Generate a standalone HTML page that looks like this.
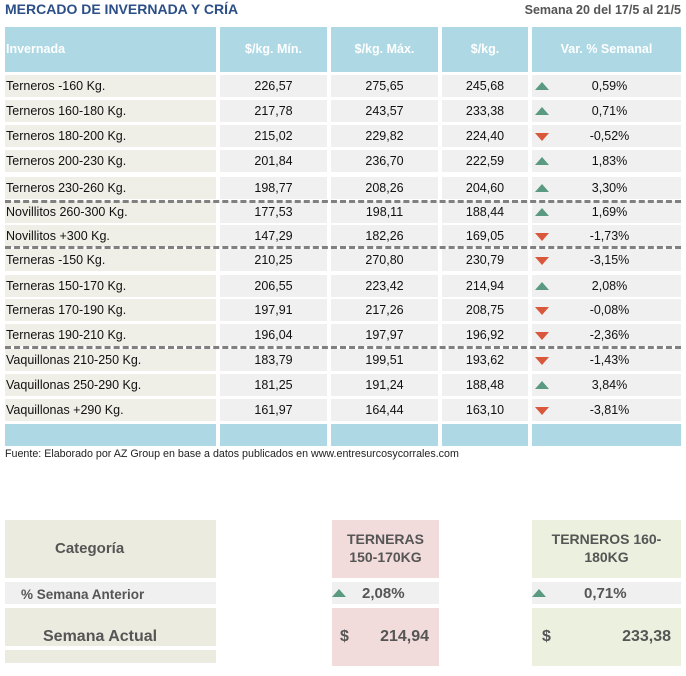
<!DOCTYPE html>
<html><head><meta charset="utf-8"><style>
body{margin:0;width:686px;height:676px;background:#fff;position:relative;overflow:hidden;font-family:"Liberation Sans",Arial,sans-serif}
div{position:absolute;box-sizing:border-box}
.t{font-size:12.5px;color:#111;line-height:22px;height:22px}
.h{top:27px;height:45px;background:#add8e4;color:#fff;font-weight:bold;font-size:12.5px;line-height:45px;text-align:center}
.c1{left:5px;width:211px;background:#f0efe7;padding-left:1px}
.c2{left:220px;width:107px;background:#f0f0f0;text-align:center}
.c3{left:331px;width:107px;background:#f0f0f0;text-align:center}
.c4{left:442px;width:86px;background:#f0f0f0;text-align:center}
.c5{left:532px;width:149px;background:#f0f0f0;text-align:center;padding-left:6px}
.up,.dn{position:absolute;left:3px;top:7px;width:0;height:0;border-left:7px solid transparent;border-right:7px solid transparent}
.up{border-bottom:8px solid #5a9a80}
.dn{border-top:8px solid #d9573a;top:8px}
.dash{left:5px;width:676px;height:0;border-top:3px dashed #808080}
.b{font-weight:bold;color:#555}
</style></head><body>
<div style="left:5px;top:1px;font-size:14px;font-weight:bold;color:#2b4f86">MERCADO DE INVERNADA Y CRÍA</div>
<div style="right:5px;top:3px;font-size:12.5px;font-weight:bold;color:#555">Semana 20 del 17/5 al 21/5</div>
<div class="h" style="left:5px;width:211px;text-align:left;padding-left:1px">Invernada</div>
<div class="h" style="left:220px;width:107px">$/kg. Mín.</div>
<div class="h" style="left:331px;width:107px">$/kg. Máx.</div>
<div class="h" style="left:442px;width:86px">$/kg.</div>
<div class="h" style="left:532px;width:149px">Var. % Semanal</div>

<div class="t c1" style="top:75px">Terneros -160 Kg.</div><div class="t c2" style="top:75px">226,57</div><div class="t c3" style="top:75px">275,65</div><div class="t c4" style="top:75px">245,68</div><div class="t c5" style="top:75px"><span class="up"></span>0,59%</div>
<div class="t c1" style="top:100px">Terneros 160-180 Kg.</div><div class="t c2" style="top:100px">217,78</div><div class="t c3" style="top:100px">243,57</div><div class="t c4" style="top:100px">233,38</div><div class="t c5" style="top:100px"><span class="up"></span>0,71%</div>
<div class="t c1" style="top:125px">Terneros 180-200 Kg.</div><div class="t c2" style="top:125px">215,02</div><div class="t c3" style="top:125px">229,82</div><div class="t c4" style="top:125px">224,40</div><div class="t c5" style="top:125px"><span class="dn"></span>-0,52%</div>
<div class="t c1" style="top:150px">Terneros 200-230 Kg.</div><div class="t c2" style="top:150px">201,84</div><div class="t c3" style="top:150px">236,70</div><div class="t c4" style="top:150px">222,59</div><div class="t c5" style="top:150px"><span class="up"></span>1,83%</div>
<div class="t c1" style="top:177px">Terneros 230-260 Kg.</div><div class="t c2" style="top:177px">198,77</div><div class="t c3" style="top:177px">208,26</div><div class="t c4" style="top:177px">204,60</div><div class="t c5" style="top:177px"><span class="up"></span>3,30%</div>
<div class="t c1" style="top:201px">Novillitos 260-300 Kg.</div><div class="t c2" style="top:201px">177,53</div><div class="t c3" style="top:201px">198,11</div><div class="t c4" style="top:201px">188,44</div><div class="t c5" style="top:201px"><span class="up"></span>1,69%</div>
<div class="t c1" style="top:225px">Novillitos +300 Kg.</div><div class="t c2" style="top:225px">147,29</div><div class="t c3" style="top:225px">182,26</div><div class="t c4" style="top:225px">169,05</div><div class="t c5" style="top:225px"><span class="dn"></span>-1,73%</div>
<div class="t c1" style="top:249px">Terneras -150 Kg.</div><div class="t c2" style="top:249px">210,25</div><div class="t c3" style="top:249px">270,80</div><div class="t c4" style="top:249px">230,79</div><div class="t c5" style="top:249px"><span class="dn"></span>-3,15%</div>
<div class="t c1" style="top:275px">Terneras 150-170 Kg.</div><div class="t c2" style="top:275px">206,55</div><div class="t c3" style="top:275px">223,42</div><div class="t c4" style="top:275px">214,94</div><div class="t c5" style="top:275px"><span class="up"></span>2,08%</div>
<div class="t c1" style="top:299px">Terneras 170-190 Kg.</div><div class="t c2" style="top:299px">197,91</div><div class="t c3" style="top:299px">217,26</div><div class="t c4" style="top:299px">208,75</div><div class="t c5" style="top:299px"><span class="dn"></span>-0,08%</div>
<div class="t c1" style="top:324px">Terneras 190-210 Kg.</div><div class="t c2" style="top:324px">196,04</div><div class="t c3" style="top:324px">197,97</div><div class="t c4" style="top:324px">196,92</div><div class="t c5" style="top:324px"><span class="dn"></span>-2,36%</div>
<div class="t c1" style="top:349px">Vaquillonas 210-250 Kg.</div><div class="t c2" style="top:349px">183,79</div><div class="t c3" style="top:349px">199,51</div><div class="t c4" style="top:349px">193,62</div><div class="t c5" style="top:349px"><span class="dn"></span>-1,43%</div>
<div class="t c1" style="top:374px">Vaquillonas 250-290 Kg.</div><div class="t c2" style="top:374px">181,25</div><div class="t c3" style="top:374px">191,24</div><div class="t c4" style="top:374px">188,48</div><div class="t c5" style="top:374px"><span class="up"></span>3,84%</div>
<div class="t c1" style="top:399px">Vaquillonas +290 Kg.</div><div class="t c2" style="top:399px">161,97</div><div class="t c3" style="top:399px">164,44</div><div class="t c4" style="top:399px">163,10</div><div class="t c5" style="top:399px"><span class="dn"></span>-3,81%</div>

<div class="dash" style="top:200px"></div>
<div class="dash" style="top:246px"></div>
<div class="dash" style="top:346px"></div>

<div style="top:424px;height:22px;left:5px;width:211px;background:#add8e4"></div>
<div style="top:424px;height:22px;left:220px;width:107px;background:#add8e4"></div>
<div style="top:424px;height:22px;left:331px;width:107px;background:#add8e4"></div>
<div style="top:424px;height:22px;left:442px;width:86px;background:#add8e4"></div>
<div style="top:424px;height:22px;left:532px;width:149px;background:#add8e4"></div>
<div style="left:5px;top:448px;font-size:10.7px;color:#222;white-space:nowrap">Fuente: Elaborado por AZ Group en base a datos publicados en www.entresurcosycorrales.com</div>

<div class="b" style="left:5px;top:520px;width:211px;height:58px;background:#ecebe0;font-size:15px;line-height:58px;padding-left:50px">Categoría</div>
<div class="b" style="left:5px;top:582px;width:211px;height:22px;background:#f0f0f0;font-size:13.5px;line-height:25px;padding-left:16px">% Semana Anterior</div>
<div class="b" style="left:5px;top:608px;width:211px;height:38px;background:#ecebe0;font-size:16px;line-height:58px;padding-left:38px">Semana Actual</div>
<div style="left:5px;top:650px;width:211px;height:13px;background:#ecebe0"></div>

<div class="b" style="left:332px;top:520px;width:107px;height:58px;background:#f2dcdb;font-size:14px;line-height:18px;text-align:center;padding-top:10px">TERNERAS<br>150-170KG</div>
<div class="b" style="left:332px;top:582px;width:107px;height:22px;background:#f0f0f0;font-size:15px;line-height:24px;padding-left:30px"><span class="up" style="left:0;top:7px"></span>2,08%</div>
<div class="b" style="left:332px;top:608px;width:107px;height:58px;background:#f2dcdb;font-size:16px;line-height:58px;padding-left:8px">$<span style="position:absolute;right:10px">214,94</span></div>

<div class="b" style="left:532px;top:520px;width:149px;height:58px;background:#ebf1de;font-size:14px;line-height:18px;text-align:center;padding-top:10px">TERNEROS 160-<br>180KG</div>
<div class="b" style="left:532px;top:582px;width:149px;height:22px;background:#f0f0f0;font-size:15px;line-height:24px;padding-left:52px"><span class="up" style="left:0;top:7px"></span>0,71%</div>
<div class="b" style="left:532px;top:608px;width:149px;height:58px;background:#ebf1de;font-size:16px;line-height:58px;padding-left:10px">$<span style="position:absolute;right:10px">233,38</span></div>
</body></html>
